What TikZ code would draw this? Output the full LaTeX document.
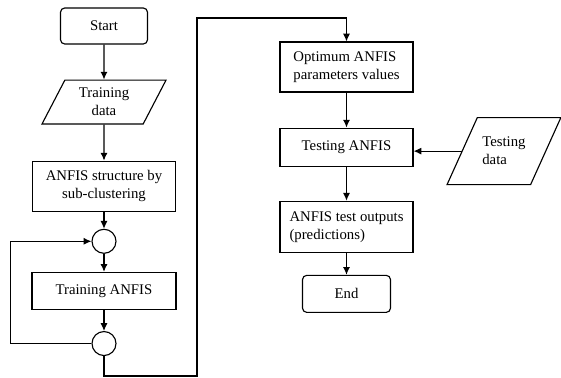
\documentclass[tikz,border=0pt]{standalone}
\usepackage{fontspec}
\setmainfont{Liberation Serif}
\usetikzlibrary{shapes.geometric,arrows.meta,positioning}

\begin{document}
\begin{tikzpicture}[
  font=\fontsize{10.5}{12.8}\selectfont,
  line width=0.8pt,
  box/.style={draw, minimum width=#1, minimum height=0.925cm,
              align=center, inner sep=2pt},
  box/.default=3.6cm,
  term/.style={box=#1, rounded corners=3pt},
  io/.style={draw, trapezium, align=center},
  junc/.style={draw, circle, minimum size=0.6cm, inner sep=0pt},
  arr/.style={-{Latex[length=5.5pt, width=5pt]}},
]
\useasboundingbox (0,0) rectangle (14.025,-9.45);

%% --- Nodos: columna izquierda ---
\node[term=2.175cm, minimum height=0.9cm] (start) at (2.6,-0.65) {Start};

\node[io, trapezium left angle=62.5, trapezium right angle=117.5,
      inner xsep=0.35cm, inner ysep=0.2cm,
      below=0.875cm of start] (train) {Training\\data};

\node[box=3.575cm, minimum height=1.25cm, below=0.9cm of train] (struct)
      {ANFIS structure by\\sub-clustering};

\node[junc, below=0.425cm of struct] (j1) {};

\node[box, below=0.45cm of j1] (trn) {Training ANFIS};

\node[junc, below=0.525cm of trn] (j2) {};

%% --- Nodos: columna derecha ---
\node[box=3.325cm, minimum height=1.25cm, align=left]
      (opt) at (8.6625,-1.675) {Optimum ANFIS\\parameters values};

\node[box=3.325cm, minimum height=0.95cm, below=0.875cm of opt] (testing)
      {Testing ANFIS};

\node[box=3.325cm, minimum height=1.275cm, align=left,
      below=0.85cm of testing] (outs) {ANFIS test outputs\\(predictions)};

\node[term=2.2cm, below=0.55cm of outs] (end) {End};

\node[io, trapezium left angle=65.7, trapezium right angle=114.3,
      inner xsep=0.125cm, inner ysep=0.49cm, align=left,
      right=1.2cm of testing, yshift=-0.1cm] (tdata) {Testing\\data};

\coordinate (bend) at (4.925,-0.45);
\coordinate (bot) at (4.925,-9.4);

%% --- Flechas ---
\draw[arr] (start) -- (train);
\draw[arr] (train) -- (struct);
\draw[arr] (struct) -- (j1);
\draw[arr] (j1) -- (trn);
\draw[arr] (trn) -- (j2);
\draw[arr] (j2.west) -- ++(-2.025,0) |- (j1.west);
\draw[arr] (j2.south) |- (bot) -- (bend) -| (opt.north);
\draw[arr] (opt) -- (testing);
\draw[arr] (testing) -- (outs);
\draw[arr] (outs) -- (end);
\draw[arr] (tdata.west) -- (tdata.west -| testing.east);

\end{tikzpicture}
\end{document}
